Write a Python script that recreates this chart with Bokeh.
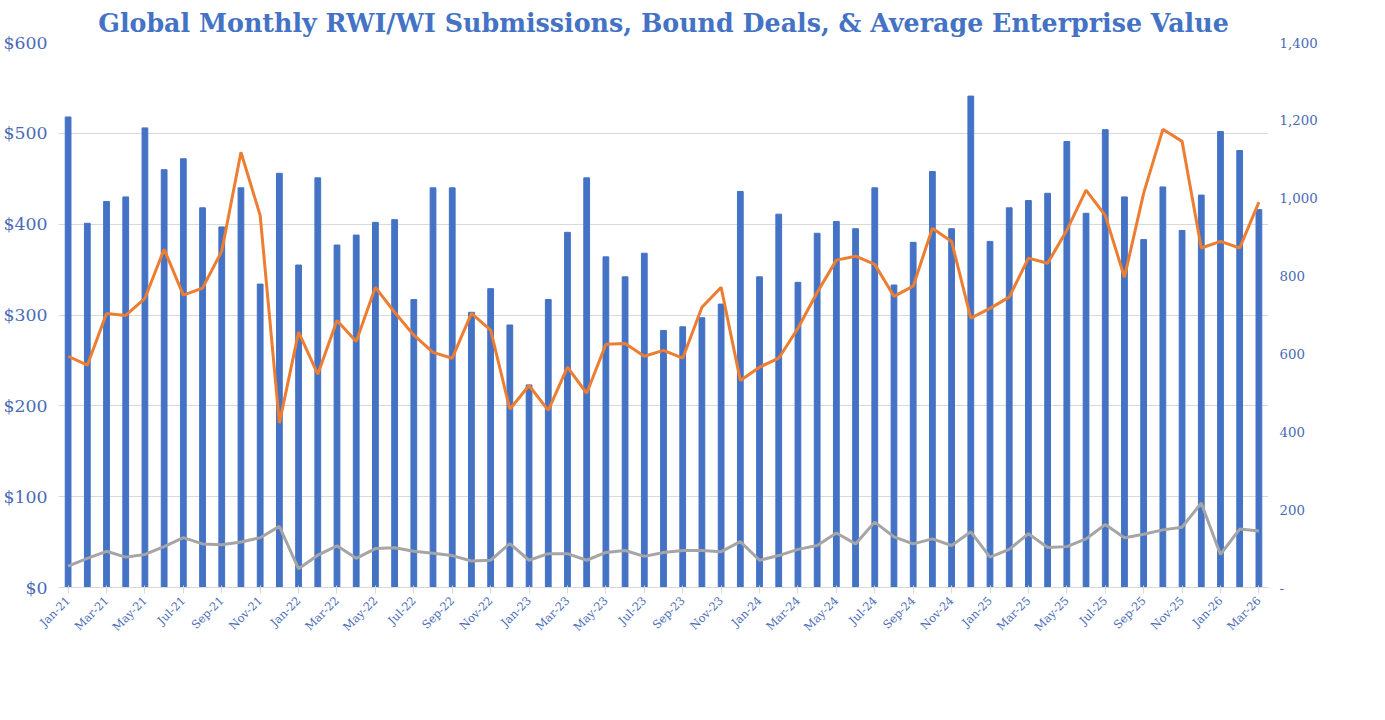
from bokeh.plotting import figure
from bokeh.models import LinearAxis, Range1d, FixedTicker, Legend, LegendItem, ColumnDataSource
from bokeh.embed import file_html
from bokeh.resources import INLINE

months = []
for y in range(21, 27):
    for m in ["Jan","Feb","Mar","Apr","May","Jun","Jul","Aug","Sep","Oct","Nov","Dec"]:
        months.append(f"{m}-{y}")
months = months[:63]

avg_ev = [518,401,425,430,506,460,472,418,397,440,334,456,
          355,451,377,388,402,405,317,440,440,303,329,289,
          223,317,391,451,364,342,368,283,287,297,312,436,
          342,411,336,390,403,395,440,333,380,458,395,541,
          381,418,426,434,491,412,504,430,383,441,393,432,
          502,481,416]
rwi_subs = [594,571,704,699,743,869,751,769,864,1118,956,422,
            656,548,686,632,771,707,648,604,589,704,661,458,
            519,455,566,499,625,627,594,609,589,720,771,532,
            566,589,666,758,841,851,830,748,774,923,889,692,
            717,746,846,833,918,1021,956,797,1013,1177,1146,872,
            889,872,990]
rwi_bound = [55,75,93,78,85,105,128,112,110,117,128,157,
             48,83,107,75,100,102,93,88,82,68,70,113,
             70,87,87,70,90,95,80,90,95,95,92,118,
             70,82,98,108,140,112,168,130,112,125,108,143,
             78,98,138,103,105,125,162,128,137,148,155,217,
             85,150,145]

BLUE = "#4472C4"; ORANGE = "#ED7D31"; GREY = "#A5A5A5"; TXT = "#4A6BB5"
FONT = "DejaVu Serif"

x = list(range(len(months)))
src = ColumnDataSource(dict(x=x, ev=avg_ev, subs=rwi_subs, bound=rwi_bound))

p = figure(frame_width=1210, frame_height=545, output_backend="svg", toolbar_location=None,
           x_range=Range1d(-0.5, len(months) - 0.5), y_range=Range1d(0, 600),
           min_border_left=30, min_border_right=10, min_border_top=10, min_border_bottom=5)
p.title.text = "Global Monthly RWI/WI Submissions, Bound Deals, & Average Enterprise Value"
p.title.align = "center"
p.title.text_font = FONT
p.title.text_font_size = "19pt"
p.title.text_color = BLUE
p.outline_line_color = None

p.extra_y_ranges = {"r": Range1d(0, 1400)}

b = p.vbar(x="x", top="ev", width=0.3, color=BLUE, source=src)
l1 = p.line(x="x", y="subs", y_range_name="r", color=ORANGE, line_width=3, source=src)
l2 = p.line(x="x", y="bound", y_range_name="r", color=GREY, line_width=3, source=src)

p.yaxis.ticker = FixedTicker(ticks=[0,100,200,300,400,500,600])
p.yaxis.major_label_overrides = {v: f"${v}" for v in [0,100,200,300,400,500,600]}
p.yaxis.major_label_text_font = FONT
p.yaxis.major_label_text_font_size = "13pt"
p.yaxis.major_label_text_color = TXT
p.yaxis.axis_line_color = None
p.yaxis.major_tick_line_color = None
p.yaxis.minor_tick_line_color = None

ra = LinearAxis(y_range_name="r", ticker=FixedTicker(ticks=list(range(0, 1401, 200))))
ra.major_label_overrides = {0: "-", **{v: f"{v:,}" for v in range(200, 1401, 200)}}
ra.major_label_text_font = FONT
ra.major_label_text_font_size = "10pt"
ra.major_label_text_color = TXT
ra.axis_line_color = None
ra.major_tick_line_color = None
ra.minor_tick_line_color = None
p.add_layout(ra, "right")

p.xaxis.ticker = FixedTicker(ticks=list(range(0, len(months), 2)))
p.xaxis.major_label_overrides = {i: months[i] for i in range(0, len(months), 2)}
p.xaxis.major_label_orientation = 0.785
p.xaxis.major_label_text_font = FONT
p.xaxis.major_label_text_font_size = "8.5pt"
p.xaxis.major_label_text_color = TXT
p.xaxis.axis_line_color = "#D9D9D9"
p.xaxis.major_tick_line_color = "#D9D9D9"
p.xaxis.minor_tick_line_color = None

p.xgrid.grid_line_color = None
p.ygrid.grid_line_color = "#D9D9D9"

leg = Legend(items=[LegendItem(label="Avg. EV of RWI subs", renderers=[b]),
                    LegendItem(label="Global RWI Subs", renderers=[l1]),
                    LegendItem(label="Global RWI Bound", renderers=[l2])],
             orientation="horizontal", location="top_center",
             label_text_font=FONT, label_text_font_size="11pt", label_text_color="#595959",
             border_line_color=None, glyph_width=25, spacing=15, padding=2, margin=2)
p.add_layout(leg, "below")

open("out.html", "w").write(file_html(p, INLINE))
